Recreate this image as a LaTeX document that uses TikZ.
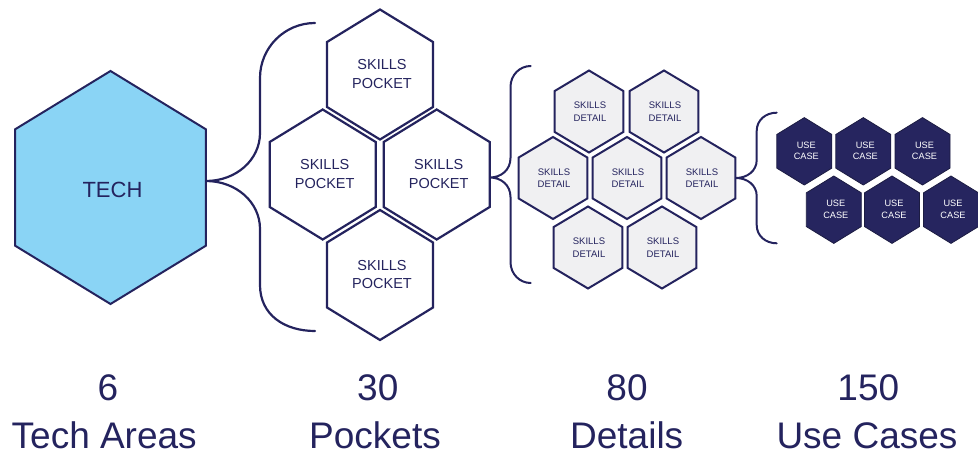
\documentclass[tikz,border=0pt]{standalone}
\usepackage{fontspec}
\setmainfont{Liberation Sans}
\definecolor{navy}{RGB}{36,35,94}
\definecolor{techblue}{RGB}{138,212,245}
\definecolor{detailgrey}{RGB}{240,240,242}
\definecolor{usenavy}{RGB}{38,37,95}
\definecolor{usedark}{RGB}{28,28,66}
\newcommand\drawhex[6]{% style, name, cx, cy, R, halfwidth
  \path[#1] (#3,#4-#5) -- (#3+#6,#4-#5/2) -- (#3+#6,#4+#5/2) -- (#3,#4+#5)
    -- (#3-#6,#4+#5/2) -- (#3-#6,#4-#5/2) -- cycle;
  \coordinate (#2) at (#3,#4);
}
\begin{document}
\begin{tikzpicture}[x=1pt,y=-1pt,
  techhex/.style={draw=navy, fill=techblue, line width=2pt, line join=miter},
  pockethex/.style={draw=navy, fill=white, line width=2.2pt, line join=miter},
  detailhex/.style={draw=navy, fill=detailgrey, line width=2pt, line join=miter},
  usehex/.style={draw=usedark, fill=usenavy, line width=0.8pt, line join=miter},
  bracket/.style={draw=navy, line width=2.2pt, line cap=round},
  techtxt/.style={text=navy, font=\fontsize{22}{26}\selectfont, inner sep=0pt},
  pockettxt/.style={text=navy, align=center, font=\fontsize{14.5}{18.3}\selectfont, inner sep=0pt},
  detailtxt/.style={text=navy, align=center, font=\fontsize{9.5}{12.5}\selectfont, inner sep=0pt},
  usetxt/.style={text=white, align=center, font=\fontsize{9.2}{11.7}\selectfont, inner sep=0pt},
  bigtxt/.style={text=navy, font=\fontsize{37}{44}\selectfont, inner sep=0pt, anchor=base},
]
\useasboundingbox (0,0) rectangle (978,455);

% TECH
\drawhex{techhex}{tech}{110.5}{187.5}{116.5}{95.3}
\node[techtxt] (techlabel) at (112.5,190) {TECH};
\coordinate (b1tip) at (206,181);
\coordinate (b1top) at (315,23);
\coordinate (b1bot) at (315,331);
\draw[bracket] (b1top) .. controls (284.6,23) and (260,47.6) .. (260,78) -- (260,133)
  .. controls (260,160) and (236,181) .. (b1tip)
  .. controls (236,181) and (260,202) .. (260,229) -- (260,285)
  .. controls (260,315) and (284.6,331) .. (b1bot);

% Pockets
\drawhex{pockethex}{p1}{380}{74.5}{65}{53}
\drawhex{pockethex}{p2}{322.7}{174.5}{65}{53}
\drawhex{pockethex}{p3}{436.7}{174.5}{65}{53}
\drawhex{pockethex}{p4}{380}{275}{65}{53}
\foreach \p in {p1,p2,p3,p4}
  \node[pockettxt] (\p t) at ([shift={(2,-0.5)}]\p) {SKILLS\\POCKET};

\coordinate (b2tip) at (490,177.5);
\coordinate (b2top) at (530.7,66);
\coordinate (b2bot) at (530.7,283);
\draw[bracket, line width=2pt] (b2top) .. controls (519.7,66) and (510.5,75) .. (510.5,87) -- (510.5,158)
  .. controls (510.5,170) and (501,177.5) .. (b2tip)
  .. controls (501,177.5) and (510.5,185) .. (510.5,197) -- (510.5,262)
  .. controls (510.5,274) and (519.7,283) .. (b2bot);

% Details
\drawhex{detailhex}{d1}{589}{111.5}{41}{34.3}
\drawhex{detailhex}{d2}{664}{111.5}{41}{34.3}
\drawhex{detailhex}{d3}{553}{178}{41}{34.3}
\drawhex{detailhex}{d4}{627}{178}{41}{34.3}
\drawhex{detailhex}{d5}{701}{178}{41}{34.3}
\drawhex{detailhex}{d6}{588}{247.5}{41}{34.3}
\drawhex{detailhex}{d7}{662}{247.5}{41}{34.3}
\foreach \d in {d1,d2,d3,d4,d5,d6,d7}
  \node[detailtxt] (\d t) at ([shift={(1,0)}]\d) {SKILLS\\DETAIL};

\coordinate (b3tip) at (736,178);
\coordinate (b3top) at (776.7,112.7);
\coordinate (b3bot) at (776.7,243.3);
\draw[bracket, line width=2pt] (b3top) .. controls (765.7,112.7) and (756.7,120) .. (756.7,131) -- (756.7,160)
  .. controls (756.7,171) and (747,178) .. (b3tip)
  .. controls (747,178) and (756.7,185) .. (756.7,196) -- (756.7,225)
  .. controls (756.7,236) and (765.7,243.3) .. (b3bot);

% Use cases
\drawhex{usehex}{u1}{804.3}{151.3}{33.7}{27.5}
\drawhex{usehex}{u2}{863.3}{151.3}{33.7}{27.5}
\drawhex{usehex}{u3}{922.5}{151.3}{33.7}{27.5}
\drawhex{usehex}{u4}{833.8}{209.7}{33.7}{27.5}
\drawhex{usehex}{u5}{892}{209.7}{33.7}{27.5}
\drawhex{usehex}{u6}{951}{209.7}{33.7}{27.5}
\foreach \u in {u1,u2,u3,u4,u5,u6}
  \node[usetxt] (\u t) at ([shift={(2,-0.5)}]\u) {USE\\CASE};

% Bottom labels
\node[bigtxt] (n1) at (108,400) {6};
\node[bigtxt] (l1) at (104.2,448) {Tech Areas};
\node[bigtxt] (n2) at (377.8,400) {30};
\node[bigtxt] (l2) at (375,448) {Pockets};
\node[bigtxt] (n3) at (627,400) {80};
\node[bigtxt] (l3) at (626.7,448) {Details};
\node[bigtxt] (n4) at (868.3,400) {150};
\node[bigtxt] (l4) at (867,448) {Use Cases};
\end{tikzpicture}
\end{document}
